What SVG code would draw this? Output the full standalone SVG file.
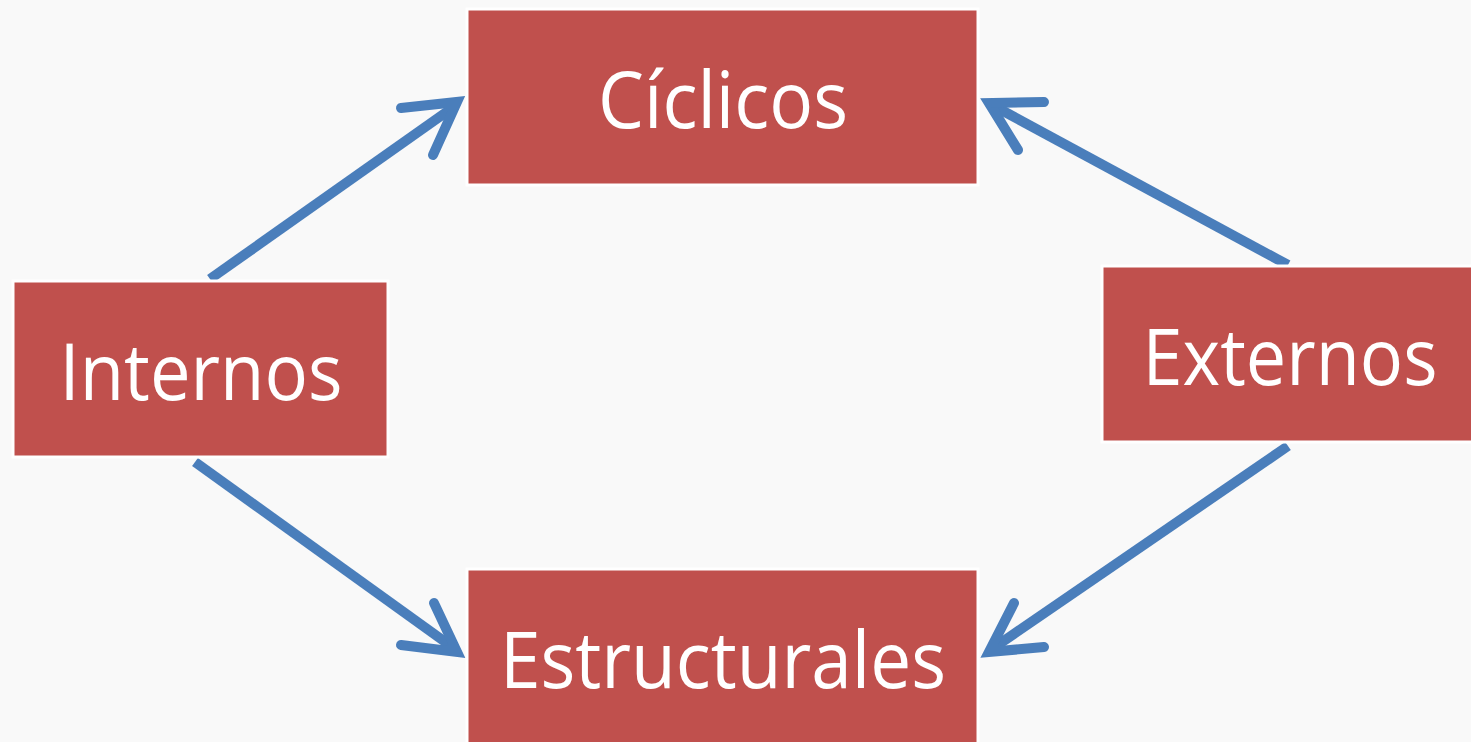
<svg xmlns="http://www.w3.org/2000/svg" width="1471" height="742" viewBox="0 0 1471 742">
<style>
.box{fill:#C0504D;stroke:#ffffff;stroke-width:3}
.lbl{font-family:"Open Sans","Noto Sans",sans-serif;font-size:78px;fill:#ffffff;text-anchor:middle}
.shaft{stroke:#4A7EBB;stroke-width:10;fill:none}
.head{stroke:#4A7EBB;stroke-width:10;fill:none;stroke-linecap:round;stroke-linejoin:miter;stroke-miterlimit:10}
</style>
<rect width="1471" height="742" fill="#F9F9F9"/>
<g id="connectors">
<line class="shaft" x1="210" y1="279" x2="455" y2="106"/>
<path class="head" d="M401,108 L457,102 L433,155"/>
<line class="shaft" x1="1288" y1="265" x2="992" y2="105"/>
<path class="head" d="M1044,102 L989,103 L1018,150"/>
<line class="shaft" x1="195" y1="462" x2="455" y2="649"/>
<path class="head" d="M401,645 L457,652 L434,603"/>
<line class="shaft" x1="1288" y1="446" x2="992" y2="649"/>
<path class="head" d="M1044,647 L989,652 L1014,603"/>
</g>
<g id="ciclicos">
<rect class="box" x="467" y="9" width="511" height="176"/>
<text class="lbl" x="723" y="128" textLength="250" lengthAdjust="spacingAndGlyphs">Cíclicos</text>
</g>
<g id="internos">
<rect class="box" x="13" y="281" width="375" height="176"/>
<text class="lbl" x="201" y="400" textLength="283" lengthAdjust="spacingAndGlyphs">Internos</text>
</g>
<g id="externos">
<rect class="box" x="1102" y="266" width="371" height="176"/>
<text class="lbl" x="1290" y="385" textLength="295" lengthAdjust="spacingAndGlyphs">Externos</text>
</g>
<g id="estructurales">
<rect class="box" x="467" y="569" width="511" height="176"/>
<text class="lbl" x="723" y="688" textLength="446" lengthAdjust="spacingAndGlyphs">Estructurales</text>
</g>
</svg>
